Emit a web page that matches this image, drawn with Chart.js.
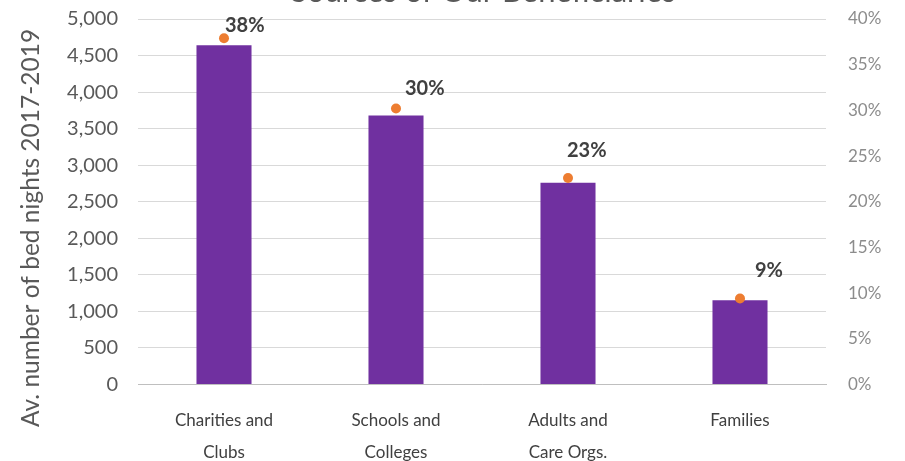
<!DOCTYPE html>
<html>
<head>
<meta charset="utf-8">
<script src="https://cdn.jsdelivr.net/npm/chart.js@4/dist/chart.umd.min.js"></script>
<style>
  html, body { margin: 0; padding: 0; background: #fff; overflow: hidden; }
  #wrap { position: absolute; left: 0; top: 0; width: 905px; height: 481px; }
</style>
</head>
<body>
<div id="wrap"><canvas id="chart" width="905" height="481"></canvas></div>
<script>
const categories = [["Charities and", "Clubs"], ["Schools and", "Colleges"], ["Adults and", "Care Orgs."], ["Families"]];
const bedNights = [4640, 3680, 2760, 1150];
const sharePct = [37.9, 30.2, 22.6, 9.4];

const chartTitle = "Sources of Our Beneficiaries";
const yTitle = "Av. number of bed nights 2017-2019";

const FONT = "Lato, 'Liberation Sans', sans-serif";
// where each % label sits relative to its dot (the labels were nudged by hand)
const labelShift = [[1, -13], [9, -20], [-1, -27], [15, -28]];

// title (cut off at the top) and the left axis title, which sits a bit low
const titles = {
  id: "titles",
  afterDraw(chart) {
    const ctx = chart.ctx;
    ctx.save();
    ctx.fillStyle = "#595959";
    ctx.textAlign = "center";
    ctx.textBaseline = "alphabetic";
    ctx.font = "31px " + FONT;
    ctx.fillText(chartTitle, 483, 2);
    ctx.translate(31, 228);
    ctx.rotate(-Math.PI / 2);
    ctx.textBaseline = "middle";
    ctx.font = "24.5px " + FONT;
    ctx.fillText(yTitle, 0, 0);
    ctx.restore();
  }
};

const pctLabels = {
  id: "pctLabels",
  afterDatasetsDraw(chart) {
    const meta = chart.getDatasetMeta(1);
    const ctx = chart.ctx;
    ctx.save();
    ctx.font = "bold 20px " + FONT;
    ctx.fillStyle = "#404040";
    ctx.textAlign = "left";
    ctx.textBaseline = "middle";
    meta.data.forEach((pt, i) => {
      const [dx, dy] = labelShift[i];
      ctx.fillText(Math.round(sharePct[i]) + "%", pt.x + dx, pt.y + dy);
    });
    ctx.restore();
  }
};

function fixWidth(w) {
  return s => {
    s.width = w;
    s.paddingTop = 0;
    s.paddingBottom = 0;
  };
}

new Chart(document.getElementById("chart"), {
  type: "bar",
  data: {
    labels: categories,
    datasets: [
      {
        type: "bar",
        data: bedNights,
        backgroundColor: "#7030A0",
        yAxisID: "y",
        barPercentage: 0.32,
        categoryPercentage: 1,
        order: 2
      },
      {
        type: "line",
        data: sharePct,
        showLine: false,
        pointRadius: 5,
        pointBackgroundColor: "#ED7D31",
        pointBorderWidth: 0,
        yAxisID: "y1",
        order: 1
      }
    ]
  },
  options: {
    responsive: false,
    animation: false,
    layout: { padding: { top: 19, bottom: 0, left: 0, right: 0 } },
    plugins: {
      legend: { display: false },
      tooltip: { enabled: false },
      title: { display: false }
    },
    scales: {
      x: {
        grid: { display: false },
        border: { display: true, color: "#bfbfbf" },
        ticks: {
          color: "#404040",
          font: { family: FONT, size: 17, lineHeight: 1.9 },
          padding: 12,
          maxRotation: 0
        }
      },
      y: {
        position: "left",
        min: 0,
        max: 5000,
        grid: { color: "#d9d9d9", drawTicks: false },
        border: { display: false },
        ticks: {
          stepSize: 500,
          color: "#595959",
          padding: 20,
          font: { family: FONT, size: 20 },
          callback: v => v.toLocaleString("en-US")
        },
        afterFit: fixWidth(138)
      },
      y1: {
        position: "right",
        min: 0,
        max: 40,
        grid: { display: false },
        border: { display: false },
        ticks: {
          stepSize: 5,
          color: "#8c8c8c",
          padding: 14,
          font: { family: FONT, size: 17 },
          callback: v => v + "%"
        },
        afterFit: fixWidth(79)
      }
    }
  },
  plugins: [pctLabels, titles]
});
</script>
</body>
</html>
